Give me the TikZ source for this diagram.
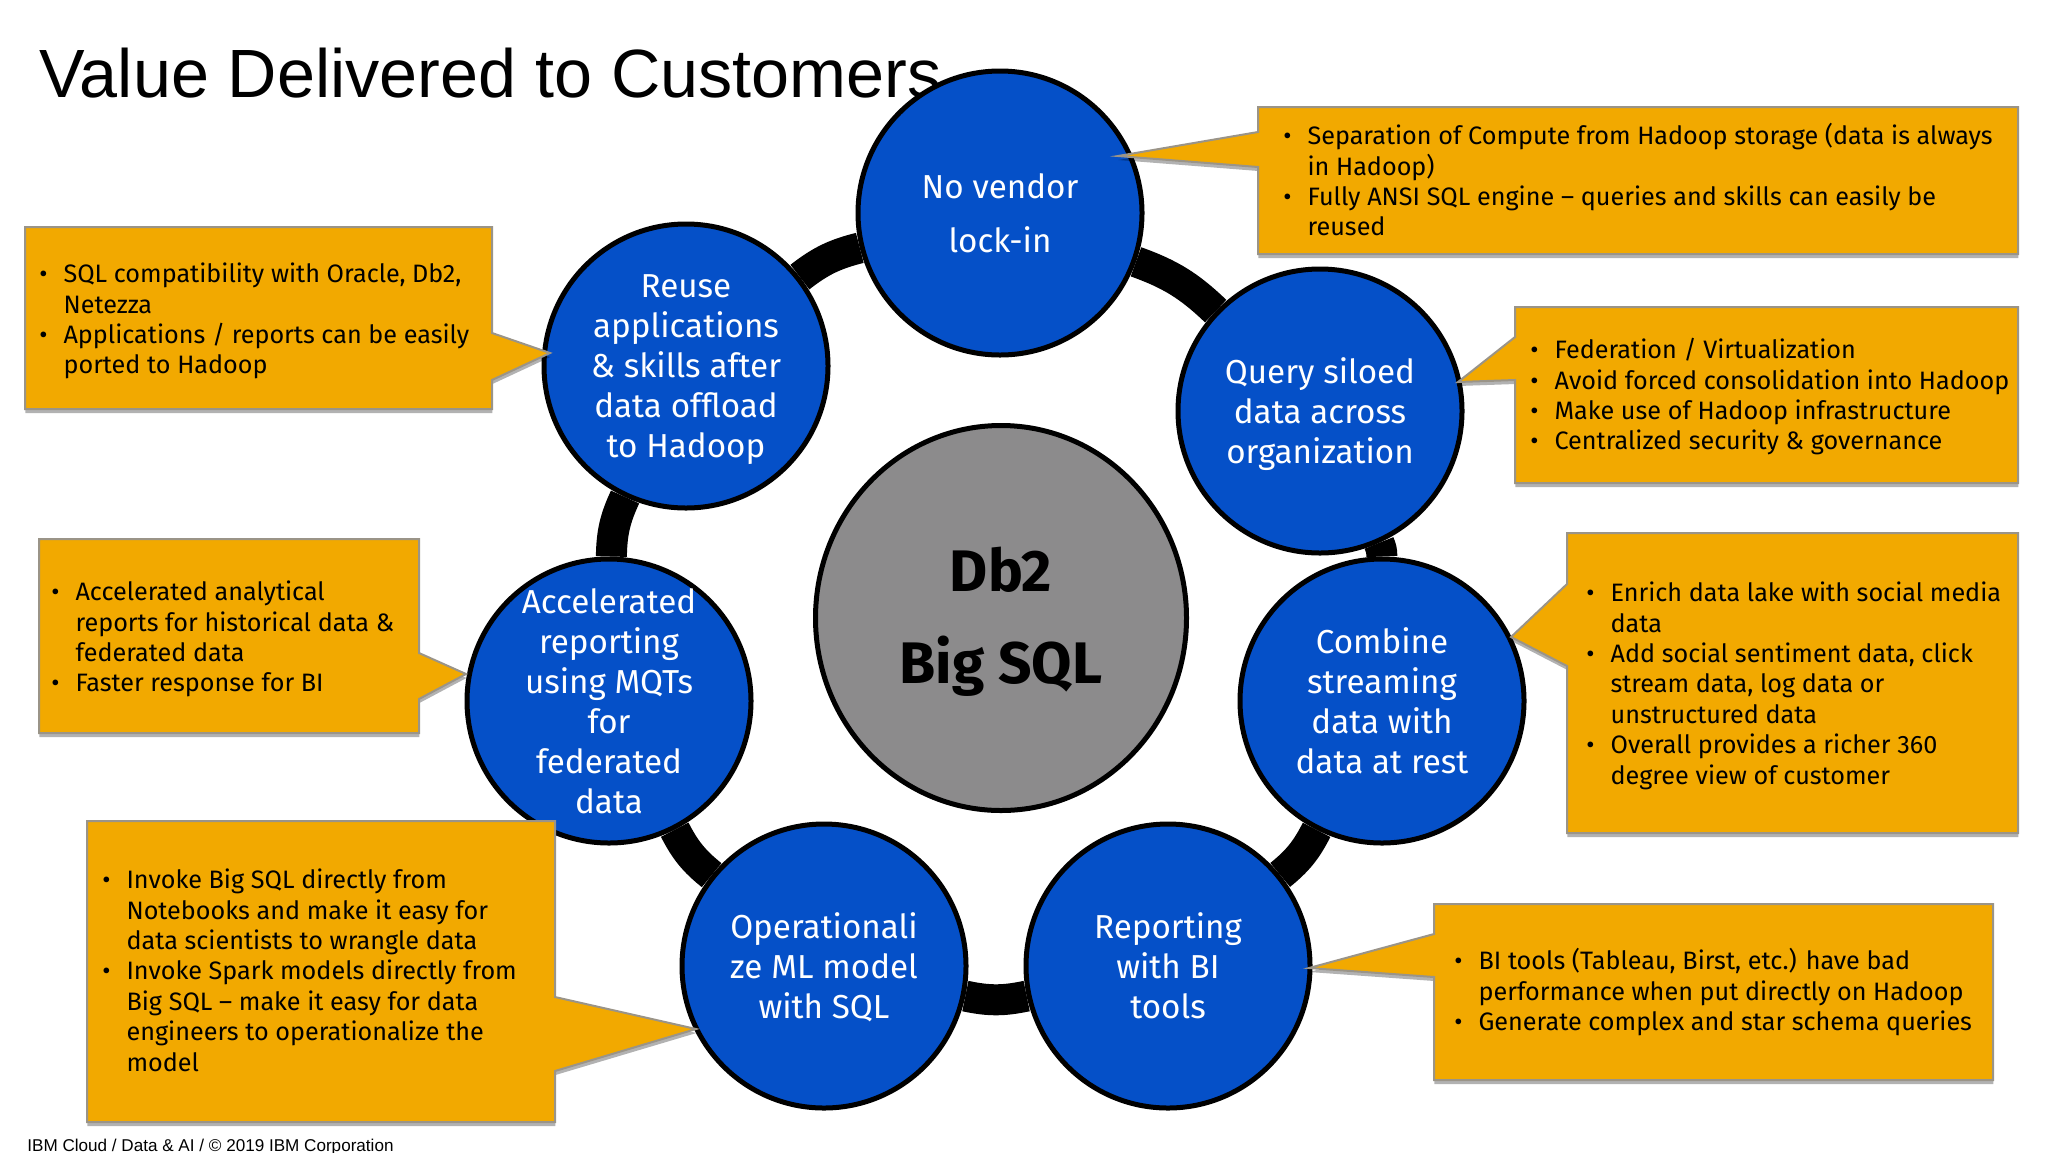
\documentclass[tikz,border=0pt]{standalone}
\usepackage{fontspec}
\setmainfont{Fira Sans}[Scale=1]
\newfontfamily\titlefont{Liberation Sans}
\usetikzlibrary{shadows, backgrounds, shapes.geometric}
\definecolor{ringblue}{HTML}{0550C8}
\definecolor{boxgold}{HTML}{F2A900}
\definecolor{hubgray}{HTML}{8C8B8C}
\definecolor{boxedge}{HTML}{9A9488}
\newcommand{\bulletlist}[1]{\begin{tabular}{@{}l@{\hspace{8pt}}l@{}}#1\end{tabular}}
\newcommand{\itm}{\textbullet &}

\begin{document}
\begin{tikzpicture}[x=0.5pt,y=-0.5pt,
 main node/.style={circle,draw=black,line width=2.5pt,fill=ringblue,text=white,minimum size=142pt,inner sep=0pt,align=center,text depth=0pt,font=\fontsize{16.6}{20}\selectfont},
 hub node/.style={ellipse,draw=black,line width=2.5pt,fill=hubgray,minimum width=185.5pt,minimum height=192.5pt,inner sep=0pt,align=center,text depth=2.5pt,font=\fontsize{29.3}{46}\selectfont\bfseries},
 note node/.style={anchor=north west,inner sep=0pt,font=\fontsize{12.6}{15.2}\selectfont},
 box path/.style={draw=boxedge,line width=1pt,fill=boxgold,drop shadow={shadow xshift=0.2pt,shadow yshift=-2pt,opacity=.3,fill=black}}]

  \useasboundingbox (0,0) rectangle (2048,1152);

  \node[anchor=west,inner sep=0pt,font=\titlefont\fontsize{34.15}{40}\selectfont] (title) at (39,73) {Value Delivered to Customers};
  \node[anchor=west,inner sep=0pt,font=\titlefont\fontsize{8.55}{10}\selectfont] (footer) at (27,1147) {IBM Cloud / Data \& AI / © 2019 IBM Corporation};

  \node[main node] (1) at (1000,213) {No vendor\\[6.8pt]lock-in};
  \node[main node] (2) at (1320,411) {Query siloed\\data across\\organization};
  \node[main node] (3) at (1382,701) {Combine\\streaming\\data with\\data at rest};
  \node[main node] (4) at (1168,966) {Reporting\\with BI\\tools};
  \node[main node] (5) at (824,966) {Operationali\\ze ML model\\with SQL};
  \node[main node] (6) at (609,701) {Accelerated\\reporting\\using MQTs\\for\\federated\\data};
  \node[main node] (7) at (686,366) {Reuse\\applications\\\& skills after\\data offload\\to Hadoop};
  \node[hub node] (hub) at (1001,618) {Db2\\Big SQL};

  % ring behind the circles
  \begin{scope}[on background layer]
  \foreach \s/\t in {1/2, 2/3, 3/4, 4/5, 5/6, 6/7, 7/1} {
   \path[draw,line width=15.5pt] (\s) edge[bend left=12] (\t);}
  \end{scope}

  % callouts with the tip on the right
  \coordinate (t5) at (696,1029);
  \coordinate (t6) at (466,674);
  \coordinate (t7) at (550,353);
  \foreach \i/\l/\u/\r/\d/\a/\b in {5/87/821/555/1122/997/1071, 6/39/539/419/733/653/699, 7/25/227/492/409/333/380} {
   \path[box path] (\l,\u) -- (\r,\u) -- (\r,\a) -- (t\i) -- (\r,\b) -- (\r,\d) -- (\l,\d) -- cycle;}

  % callouts with the tip on the left
  \coordinate (t1) at (1118,156);
  \coordinate (t2) at (1458,382);
  \coordinate (t3) at (1511,637);
  \coordinate (t4) at (1309,968);
  \foreach \i/\l/\u/\r/\d/\a/\b in {1/1258/107/2018/254/132/167, 2/1515/307/2018/483/337/380, 3/1567/533/2018/833/584/666, 4/1434/904/1993/1080/934/977} {
   \path[box path] (\l,\u) -- (\r,\u) -- (\r,\d) -- (\l,\d) -- (\l,\b) -- (t\i) -- (\l,\a) -- cycle;}

  \node[note node] (a1) at (1283,123) {\bulletlist{\itm Separation of Compute from Hadoop storage (data is always\\ & in Hadoop)\\\itm Fully ANSI SQL engine -- queries and skills can easily be\\ & reused}};
  \node[note node] (a2) at (1530,337) {\bulletlist{\itm Federation / Virtualization\\\itm Avoid forced consolidation into Hadoop\\\itm Make use of Hadoop infrastructure\\\itm Centralized security \& governance}};
  \node[note node] (a3) at (1586,580) {\bulletlist{\itm Enrich data lake with social media\\ & data\\\itm Add social sentiment data, click\\ & stream data, log data or\\ & unstructured data\\\itm Overall provides a richer 360\\ & degree view of customer}};
  \node[note node] (a4) at (1454,948) {\bulletlist{\itm BI tools (Tableau, Birst, etc.) have bad\\ & performance when put directly on Hadoop\\\itm Generate complex and star schema queries}};
  \node[note node] (a5) at (102,867) {\bulletlist{\itm Invoke Big SQL directly from\\ & Notebooks and make it easy for\\ & data scientists to wrangle data\\\itm Invoke Spark models directly from\\ & Big SQL -- make it easy for data\\ & engineers to operationalize the\\ & model}};
  \node[note node] (a6) at (51,579) {\bulletlist{\itm Accelerated analytical\\ & reports for historical data \&\\ & federated data\\\itm Faster response for BI}};
  \node[note node] (a7) at (39,261) {\bulletlist{\itm SQL compatibility with Oracle, Db2,\\ & Netezza\\\itm Applications / reports can be easily\\ & ported to Hadoop}};
\end{tikzpicture}
\end{document}
